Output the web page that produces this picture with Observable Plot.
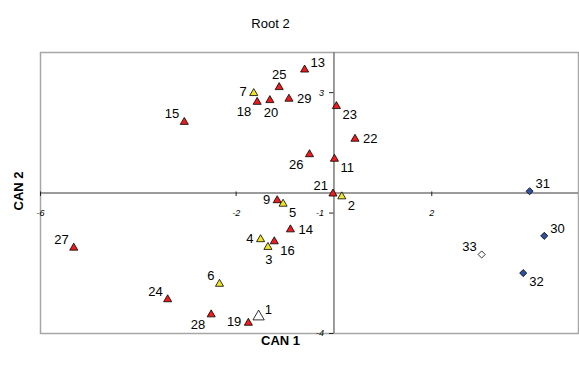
<!DOCTYPE html>
<html><head><meta charset="utf-8">
<script src="https://cdn.jsdelivr.net/npm/d3@7"></script>
<script src="https://cdn.jsdelivr.net/npm/@observablehq/plot@0.6"></script>
<style>
body{margin:0;background:#fff;}
svg{font-family:Arial,"Liberation Sans",sans-serif;}
</style>
</head><body><div id="chart"></div>
<script>
// Case ids, canonical scores and groups
const ids   = [1, 2, 3, 4, 5, 6, 7, 9, 11, 13, 14, 15, 16, 18, 19, 20, 21, 22, 23, 24, 25, 26, 27, 28, 29, 30, 31, 32, 33];
const can1  = [-1.54, 0.16, -1.35, -1.50, -1.04, -2.34, -1.64, -1.16, 0.01, -0.60, -0.89, -3.06, -1.22, -1.57, -1.75, -1.31, -0.02, 0.43, 0.05, -3.40, -1.12, -0.50, -5.32, -2.51, -0.92, 4.30, 4.00, 3.87, 3.02];
const can2  = [-3.52, -0.10, -1.54, -1.32, -0.31, -2.59, 2.84, -0.21, 0.97, 3.51, -1.04, 2.02, -1.38, 2.59, -3.70, 2.64, -0.02, 1.54, 2.47, -3.03, 3.01, 1.10, -1.56, -3.46, 2.68, -1.22, 0.05, -2.28, -1.75];
const group = ["open", "yellow", "yellow", "yellow", "yellow", "yellow", "yellow", "red", "red", "red", "red", "red", "red", "red", "red", "red", "red", "red", "red", "red", "red", "red", "red", "red", "red", "blue", "blue", "blue", "openDiamond"];
const labelSide = ["NE", "SE", "S", "W", "SE", "NW", "W", "W", "SE", "NE", "E", "NW", "SE", "SW", "W", "S", "NW", "E", "SE", "NW", "N", "SW", "NW", "SW", "E", "NE", "NE", "SE", "NW"];

const xTicks = [-6, -2, 2];
const yTicks = [-4, -4 + 24 / 7, -4 + 48 / 7]; // Excel major unit, labels rounded
const titleText = "Root 2";
const xLabel = "CAN 1";
const yLabel = "CAN 2";

const data = ids.map((id, i) => ({id, x: can1[i], y: can2[i], group: group[i], side: labelSide[i]}));

const styles = {
  red:         {symbol: "triangle", r: 3.0, fill: "#ee1c1c"},
  yellow:      {symbol: "triangle", r: 3.0, fill: "#f0e428"},
  open:        {symbol: "triangle", r: 4.2, fill: "#ffffff"},
  blue:        {symbol: "diamond2", r: 3.2, fill: "#2f4f9f"},
  openDiamond: {symbol: "diamond2", r: 3.2, fill: "#ffffff"}
};
const sides = {
  N:  {textAnchor: "middle", dx: 0,  dy: -12},
  S:  {textAnchor: "middle", dx: 1,  dy: 13},
  E:  {textAnchor: "start",  dx: 8,  dy: 0},
  W:  {textAnchor: "end",    dx: -7, dy: -1},
  NE: {textAnchor: "start",  dx: 6,  dy: -7},
  NW: {textAnchor: "end",    dx: -5, dy: -8},
  SE: {textAnchor: "start",  dx: 6,  dy: 9},
  SW: {textAnchor: "end",    dx: -6, dy: 10}
};
const fmt = v => String(Math.round(v));

const marks = [
  Plot.frame({stroke: "#a6a6a6", strokeWidth: 1.5}),
  Plot.ruleY([0], {stroke: "#7a7a7a", strokeWidth: 1.5}),
  Plot.ruleX([0], {stroke: "#7a7a7a", strokeWidth: 1.5}),
  Plot.ruleX(xTicks, {x: d => d, y1: -0.1, y2: 0.03, stroke: "#222"}),
  Plot.ruleY(yTicks, {y: d => d, x1: -0.09, x2: 0, stroke: "#222"}),
  Plot.text(xTicks, {x: d => d, y: 0, text: fmt, dy: 20, fontSize: 9, fontStyle: "italic", fill: "#000"}),
  Plot.text(yTicks, {x: 0, y: d => d, text: fmt, dx: -10, textAnchor: "end", fontSize: 9, fontStyle: "italic", fill: "#000"})
];
for (const [g, s] of Object.entries(styles)) {
  marks.push(Plot.dot(data.filter(d => d.group === g), {x: "x", y: "y", symbol: s.symbol, r: s.r, fill: s.fill, stroke: "#000", strokeWidth: 0.8}));
}
for (const [k, s] of Object.entries(sides)) {
  marks.push(Plot.text(data.filter(d => d.side === k), {x: "x", y: "y", text: "id", fontSize: 13, fill: "#000", ...s}));
}
marks.push(
  Plot.text([titleText], {frameAnchor: "top", textAnchor: "middle", dx: -39, dy: -34, fontSize: 13, fill: "#000"}),
  Plot.text([xLabel], {frameAnchor: "bottom", textAnchor: "middle", dx: -29, dy: 11, fontSize: 13, fontWeight: "bold", fill: "#000"}),
  Plot.text([yLabel], {frameAnchor: "left", textAnchor: "middle", dx: -22, dy: -2, rotate: -90, fontSize: 13, fontWeight: "bold", fill: "#000"})
);

const chart = Plot.plot({
  width: 579,
  height: 365,
  marginLeft: 40,
  marginRight: 1,
  marginTop: 52,
  marginBottom: 32,
  x: {domain: [-6, 5], axis: null},
  y: {domain: [-4, 4], axis: null},
  style: {background: "#fff", fontFamily: "Arial, 'Liberation Sans', sans-serif", overflow: "visible"},
  marks
});
document.getElementById("chart").appendChild(chart);
</script>
</body></html>
